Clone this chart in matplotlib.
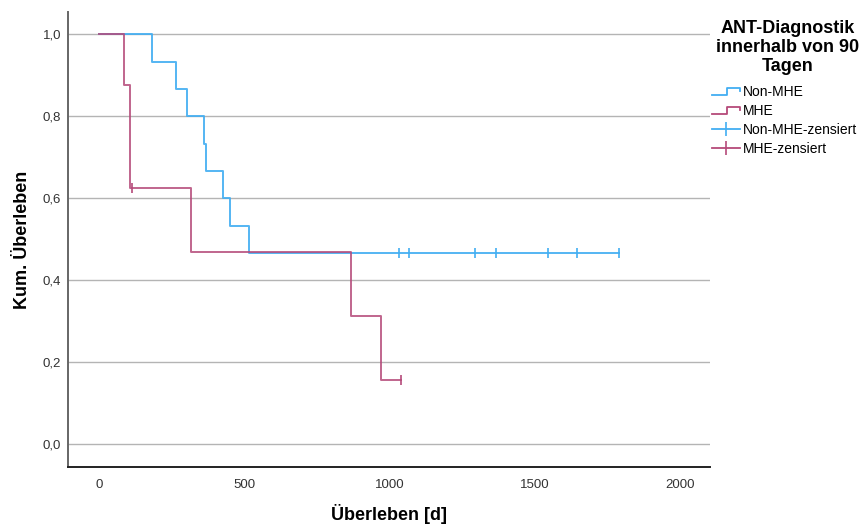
import matplotlib
matplotlib.use("Agg")
import matplotlib.pyplot as plt
import matplotlib.ticker as ticker
from matplotlib.legend_handler import HandlerLine2D
from matplotlib.lines import Line2D

plt.rcParams['font.family'] = ['Liberation Sans', 'DejaVu Sans']

# Kaplan-Meier Stufen (Tage, Überlebensrate nach dem Ereignis)
nonmhe_times = [0, 181, 265, 302, 361, 368, 426, 451, 516]
nonmhe_surv = [1.0, 0.933, 0.867, 0.800, 0.733, 0.667, 0.600, 0.533, 0.467]
nonmhe_cens = [1032, 1068, 1295, 1367, 1547, 1645, 1790]

mhe_times = [0, 86, 104, 107, 315, 866, 969]
mhe_surv = [1.0, 0.875, 0.750, 0.625, 0.469, 0.3125, 0.156]
mhe_cens_t = [111, 1039]
mhe_cens_s = [0.625, 0.156]

col_non = '#42aef2'
col_mhe = '#b54a7a'


class StepHandler(HandlerLine2D):
    def create_artists(self, legend, orig_handle, xdescent, ydescent,
                       width, height, fontsize, trans):
        x0 = -xdescent
        y0 = -ydescent + height * 0.1
        y1 = -ydescent + height * 0.85
        xs = [x0, x0 + width * 0.55, x0 + width * 0.55, x0 + width, x0 + width]
        ys = [y0, y0, y1, y1, y1 - height * 0.3]
        ln = Line2D(xs, ys, color=orig_handle.get_color(),
                    lw=orig_handle.get_linewidth(), transform=trans)
        return [ln]


fig = plt.figure(figsize=(8.63, 5.27), dpi=100)
ax = fig.add_axes([0.0788, 0.114, 0.7439, 0.863])

# Stufenkurven
nx = nonmhe_times + [max(nonmhe_cens)]
ny = nonmhe_surv + [nonmhe_surv[-1]]
mx = mhe_times + [max(mhe_cens_t)]
my = mhe_surv + [mhe_surv[-1]]
ax.step(nx, ny, where='post', color=col_non, lw=1.4, alpha=0.9, zorder=3)
ax.step(mx, my, where='post', color=col_mhe, lw=1.4, alpha=0.85, zorder=4)

# zensierte Fälle
ax.plot(nonmhe_cens, [nonmhe_surv[-1]] * len(nonmhe_cens), ls='none',
        marker='|', ms=7, mew=1.2, color=col_non, zorder=5)
ax.plot(mhe_cens_t, mhe_cens_s, ls='none', marker='|', ms=7, mew=1.2,
        color=col_mhe, zorder=5)

ax.set_xlim(-108, 2104)
ax.set_ylim(-0.056, 1.054)
ax.set_yticks([0.0, 0.2, 0.4, 0.6, 0.8, 1.0])
ax.set_xticks([0, 500, 1000, 1500, 2000])
ax.yaxis.set_major_formatter(ticker.FuncFormatter(lambda v, p: ('%.1f' % v).replace('.', ',')))
ax.grid(axis='y', color='#b4b4b4', lw=1.0, zorder=0)
ax.tick_params(length=0, labelsize=9.5, colors='#333333')
ax.tick_params(axis='y', pad=5)
ax.tick_params(axis='x', pad=9)
for s in ['top', 'right']:
    ax.spines[s].set_visible(False)
ax.spines['left'].set_color('#666666')
ax.spines['bottom'].set_color('#222222')
ax.spines['left'].set_linewidth(1.4)
ax.spines['bottom'].set_linewidth(1.4)

ax.set_xlabel('Überleben [d]', fontsize=13, fontweight='bold')
ax.xaxis.set_label_coords(0.5, -0.082)
ax.set_ylabel('Kum. Überleben', fontsize=13, fontweight='bold')
ax.yaxis.set_label_coords(-0.058, 0.5)

# Legende
fig.text(788 / 863, 1 - 20 / 527, 'ANT-Diagnostik\ninnerhalb von 90\nTagen',
         ha='center', va='top', fontsize=13, fontweight='bold', linespacing=1.15)
h1 = Line2D([], [], color=col_non, lw=1.3)
h2 = Line2D([], [], color=col_mhe, lw=1.3)
h3 = Line2D([], [], color=col_non, lw=1.3, marker='|', ms=10, mew=1.2)
h4 = Line2D([], [], color=col_mhe, lw=1.3, marker='|', ms=10, mew=1.2)
fig.legend([h1, h2, h3, h4],
           ['Non-MHE', 'MHE', 'Non-MHE-zensiert', 'MHE-zensiert'],
           loc='upper left', bbox_to_anchor=(712 / 863, 1 - 85 / 527),
           frameon=False, fontsize=10, handlelength=2.0,
           handletextpad=0.2, labelspacing=0.35, borderpad=0,
           borderaxespad=0,
           handler_map={h1: StepHandler(), h2: StepHandler()})

plt.savefig('out.png', dpi=100)
